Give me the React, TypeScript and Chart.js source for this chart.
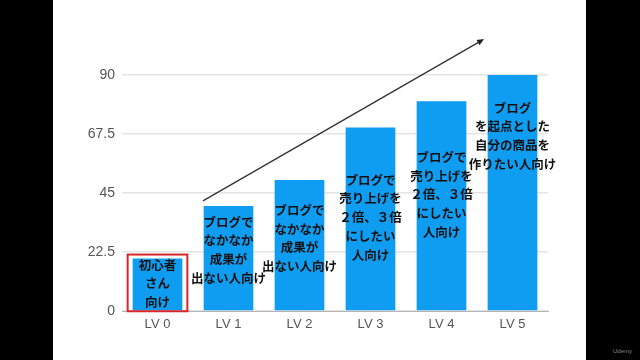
import React, { useEffect, useRef } from "react";
import { Chart, registerables } from "chart.js";

Chart.register(...registerables);

const categories = ["LV 0", "LV 1", "LV 2", "LV 3", "LV 4", "LV 5"];
const values = [20, 40, 50, 70, 80, 90];
const yTicks = [0, 22.5, 45, 67.5, 90];
const barTexts: string[][] = [
  ["初心者", "さん", "向け"],
  ["ブログで", "なかなか", "成果が", "出ない人向け"],
  ["ブログで", "なかなか", "成果が", "出ない人向け"],
  ["ブログで", "売り上げを", "２倍、３倍", "にしたい", "人向け"],
  ["ブログで", "売り上げを", "２倍、３倍", "にしたい", "人向け"],
  ["ブログ", "を起点とした", "自分の商品を", "作りたい人向け"],
];
// vertical centre of each text block, in axis units
const textCenters = [10.5, 23.3, 27.8, 35.7, 44.4, 66.7];
// arrow start/end as [category index, value]
const arrowFrom = [0.64, 42];
const arrowTo = [4.6, 103.7];
const highlightIndex = 0;

const overlayPlugin = {
  id: "overlay",
  afterDatasetsDraw(chart: any) {
    const ctx = chart.ctx as CanvasRenderingContext2D;
    const xs = chart.scales.x;
    const ys = chart.scales.y;
    const meta = chart.getDatasetMeta(0);
    ctx.save();
    // texts
    ctx.fillStyle = "#111";
    ctx.font = "bold 12.5px 'Noto Sans CJK JP', sans-serif";
    ctx.textAlign = "center";
    ctx.textBaseline = "middle";
    const lh = 18.7;
    barTexts.forEach((lines, i) => {
      const bar = meta.data[i];
      const cy = ys.getPixelForValue(textCenters[i]);
      const start = cy - ((lines.length - 1) * lh) / 2;
      lines.forEach((t, j) => ctx.fillText(t, bar.x, start + j * lh));
    });
    // red highlight
    const hb = meta.data[highlightIndex];
    const half = hb.width / 2 + 5;
    ctx.strokeStyle = "#d9262c";
    ctx.lineWidth = 2;
    ctx.strokeRect(hb.x - half, hb.y - 4, half * 2, hb.base - hb.y + 5);
    // arrow
    const x1 = xs.getPixelForValue(arrowFrom[0]);
    const y1 = ys.getPixelForValue(arrowFrom[1]);
    const x2 = xs.getPixelForValue(arrowTo[0]);
    const y2 = ys.getPixelForValue(arrowTo[1]);
    ctx.strokeStyle = "#333";
    ctx.fillStyle = "#222";
    ctx.lineWidth = 1.3;
    const ang = Math.atan2(y2 - y1, x2 - x1);
    ctx.beginPath();
    ctx.moveTo(x1, y1);
    ctx.lineTo(x2 - 4 * Math.cos(ang), y2 - 4 * Math.sin(ang));
    ctx.stroke();
    const hl = 7, hw = 3;
    ctx.beginPath();
    ctx.moveTo(x2, y2);
    ctx.lineTo(x2 - hl * Math.cos(ang) + hw * Math.sin(ang), y2 - hl * Math.sin(ang) - hw * Math.cos(ang));
    ctx.lineTo(x2 - hl * Math.cos(ang) - hw * Math.sin(ang), y2 - hl * Math.sin(ang) + hw * Math.cos(ang));
    ctx.closePath();
    ctx.fill();
    ctx.restore();
  },
};

export default function App() {
  const ref = useRef<HTMLCanvasElement>(null);
  useEffect(() => {
    if (!ref.current) return;
    const chart = new Chart(ref.current, {
      type: "bar",
      data: {
        labels: categories,
        datasets: [
          {
            data: values,
            backgroundColor: "#0f9df1",
            borderWidth: 0,
            categoryPercentage: 0.7,
            barPercentage: 1,
          },
        ],
      },
      options: {
        animation: false,
        responsive: false,
        maintainAspectRatio: false,
        layout: { padding: { top: 75, right: 38, left: 0, bottom: 0 } },
        plugins: { legend: { display: false }, tooltip: { enabled: false } },
        scales: {
          x: {
            grid: { display: false, drawTicks: false },
            border: { display: true, color: "#b5b5b5", width: 1 },
            ticks: {
              color: "#555",
              padding: 6,
              font: { family: "'Liberation Sans', Arial, sans-serif", size: 13 },
            },
            afterFit: (s: any) => {
              s.height = 49;
            },
          },
          y: {
            min: 0,
            max: 90,
            grid: { color: "#e3e3e3", drawTicks: false, lineWidth: 1.5 },
            border: { display: false },
            afterBuildTicks: (s: any) => {
              s.ticks = yTicks.map((v) => ({ value: v }));
            },
            ticks: {
              color: "#555",
              padding: 7,
              font: { family: "'Liberation Sans', Arial, sans-serif", size: 14 },
            },
            afterFit: (s: any) => {
              s.width = 69;
            },
          },
        },
      },
      plugins: [overlayPlugin],
    });
    return () => chart.destroy();
  }, []);
  return (
    <div style={{ position: "fixed", left: 0, top: 0, width: 640, height: 360, background: "#000", overflow: "hidden" }}>
      <div style={{ position: "absolute", left: 53, top: 0, width: 533, height: 360, background: "#fff" }}>
        <canvas ref={ref} width={533} height={360} style={{ display: "block" }} />
      </div>
      <div style={{ position: "absolute", right: 8, bottom: 6, color: "#888", fontSize: 6, fontFamily: "'Liberation Sans', sans-serif" }}>
        Udemy
      </div>
    </div>
  );
}
